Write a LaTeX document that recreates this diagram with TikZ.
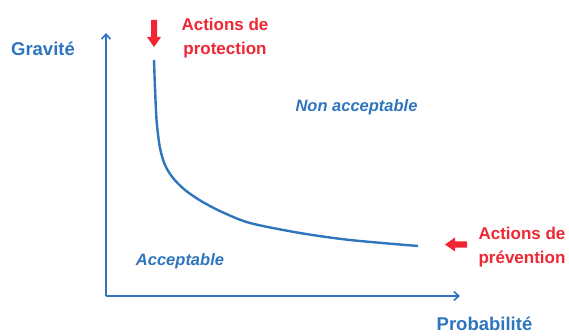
\documentclass[tikz,border=0pt]{standalone}
\usepackage{fontspec}
\setmainfont{Liberation Sans}
\usetikzlibrary{arrows.meta}
\definecolor{axblue}{RGB}{46,117,190}
\definecolor{actred}{RGB}{240,38,52}
\tikzset{
  axis/.style={draw=axblue, line width=2pt, -{Straight Barb[length=5pt,width=9pt,line width=1.6pt]}},
  curve/.style={draw=axblue, line width=2.4pt},
  bluelbl/.style={text=axblue, font=\bfseries\fontsize{18.5}{22}\selectfont, inner sep=0pt},
  zonelbl/.style={text=axblue, font=\bfseries\itshape\fontsize{16.5}{20}\selectfont, inner sep=0pt},
  redlbl/.style={text=actred, font=\bfseries\fontsize{17}{24}\selectfont, inner sep=0pt, align=center},
  redarrow/.style={fill=actred, draw=none}
}
\begin{document}
\begin{tikzpicture}[x=1pt,y=-1pt]
\useasboundingbox (0,0) rectangle (569,336);
% axes
\coordinate (O) at (106,296);
\coordinate (ytip) at (106,33);
\coordinate (xtip) at (460,296);
\draw[axis] (O) -- (ytip);
\draw[axis] (O) -- (xtip);
% curve
\draw[curve] plot[smooth, tension=0.5] coordinates {(154,60) (155,88) (156.7,122) (160,148) (165,165) (173,178) (185,190) (201,201) (222,212) (250,223) (300,233) (350,240) (418,246)};
% red arrows
\fill[redarrow] (151,20) -- (157,20) -- (157,37) -- (161,37) -- (154,47) -- (147,37) -- (151,37) -- cycle;
\fill[redarrow] (467,241.5) -- (467,247.5) -- (455,247.5) -- (455,251.5) -- (445,244.5) -- (455,237.5) -- (455,241.5) -- cycle;
% labels
\node[bluelbl, anchor=base] (grav) at (43,56) {Gravité};
\node[bluelbl, anchor=base] (prob) at (484.5,330.5) {Probabilité};
\node[zonelbl, anchor=base] (nonacc) at (356.5,112) {Non acceptable};
\node[zonelbl, anchor=base] (acc) at (180,265) {Acceptable};
\node[redlbl, anchor=north] (prot) at (225,17.5) {Actions de\\protection};
\node[redlbl, anchor=north] (prev) at (522,226.5) {Actions de\\prévention};
\end{tikzpicture}
\end{document}
